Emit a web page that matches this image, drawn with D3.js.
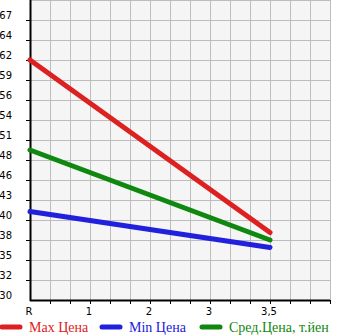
<!DOCTYPE html>
<html><head><meta charset="utf-8">
<script src="https://cdn.jsdelivr.net/npm/d3@7"></script>
<style>body{margin:0;background:#fff}svg{display:block}</style>
</head><body><svg id="c" width="345" height="335"></svg>
<script>
const categories = ["R", "1", "2", "3", "3,5"];
const maxPrice = [62, null, null, null, 39];
const minPrice = [41.8, null, null, null, 37];
const avgPrice = [50, null, null, null, 38];
const yTickLabels = ["30","32","35","38","40","43","46","48","51","54","56","59","62","64","67"];
const seriesNames = ["Max Цена", "Min Цена", "Сред.Цена, т.йен"];
const seriesColors = ["#dd2020", "#2020dd", "#108810"];

const svg = d3.select("#c");
const L = 30, R = 330, T = 0, B = 300;
const x = d3.scalePoint().domain(categories).range([L, 270]);
const y = d3.scaleLinear().domain([30, 70]).range([B, T]);

svg.append("rect").attr("x", L).attr("y", T).attr("width", R - L).attr("height", B - T).attr("fill", "#f5f5f5");

// grid
const g = svg.append("g").attr("stroke", "#bdbdbd").attr("stroke-width", 1);
const vx = d3.range(L + 20, R + 1, 20);
g.selectAll("line.v").data(vx).enter().append("line")
  .attr("x1", d => d + 0.5).attr("x2", d => d + 0.5).attr("y1", T).attr("y2", B);
const yVals = d3.range(0, 15).map(i => 30 + i * 40 / 15);
g.selectAll("line.h").data(yVals.concat([70])).enter().append("line")
  .attr("x1", L).attr("x2", R).attr("y1", d => Math.round(y(d)) + 0.5).attr("y2", d => Math.round(y(d)) + 0.5);

// y ticks & labels
svg.append("g").selectAll("line").data(yVals.slice(1)).enter().append("line")
  .attr("x1", L - 4).attr("x2", L).attr("y1", d => Math.round(y(d)) + 0.5).attr("y2", d => Math.round(y(d)) + 0.5)
  .attr("stroke", "#000");
svg.append("g").selectAll("text").data(yVals).enter().append("text")
  .attr("x", 12).attr("y", d => y(d) - 5).attr("dy", "0.35em")
  .attr("text-anchor", "end").attr("font-family", "DejaVu Sans, sans-serif").attr("font-size", 10)
  .text((d, i) => yTickLabels[i]);

// x ticks
svg.append("g").selectAll("line").data(vx).enter().append("line")
  .attr("x1", d => d + 0.5).attr("x2", d => d + 0.5).attr("y1", B).attr("y2", B + 4).attr("stroke", "#000");
svg.append("g").selectAll("text").data(categories).enter().append("text")
  .attr("x", d => x(d) - 1).attr("y", 311).attr("dy", "0.35em")
  .attr("text-anchor", "middle").attr("font-family", "DejaVu Sans, sans-serif").attr("font-size", 10)
  .text(d => d);

// axes
svg.append("line").attr("x1", L + 0.5).attr("x2", L + 0.5).attr("y1", 0).attr("y2", B + 1).attr("stroke", "#000").attr("stroke-width", 2);
svg.append("line").attr("x1", L).attr("x2", R).attr("y1", B + 0.5).attr("y2", B + 0.5).attr("stroke", "#000").attr("stroke-width", 2);

// series lines
const series = [maxPrice, minPrice, avgPrice];
const line = d3.line().defined(d => d.v != null).x(d => x(d.c)).y(d => y(d.v));
series.forEach((s, i) => {
  const pts = categories.map((c, j) => ({c, v: s[j]})).filter(d => d.v != null);
  svg.append("path").datum(pts).attr("d", line).attr("fill", "none")
    .attr("stroke", seriesColors[i]).attr("stroke-width", 5).attr("stroke-linecap", "round");
});

// legend
const legX = [0, 100, 200];
seriesNames.forEach((n, i) => {
  svg.append("line").attr("x1", legX[i] + 2).attr("x2", legX[i] + 20).attr("y1", 327).attr("y2", 327)
    .attr("stroke", seriesColors[i]).attr("stroke-width", 5).attr("stroke-linecap", "round");
  svg.append("text").attr("x", legX[i] + 29).attr("y", 327).attr("dy", "0.35em")
    .attr("font-family", "Liberation Serif, serif").attr("font-size", 14).attr("fill", seriesColors[i]).text(n);
});
</script></body></html>
